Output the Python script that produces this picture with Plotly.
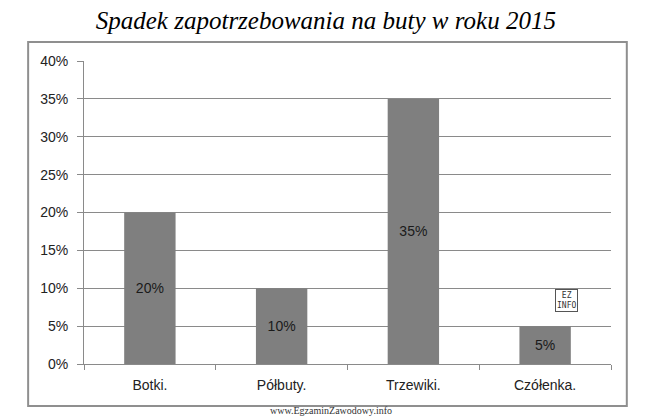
import plotly.graph_objects as go

categories = ["Botki.", "Półbuty.", "Trzewiki.", "Czółenka."]
spadek_pct = [20, 10, 35, 5]
y_ticks = [0, 5, 10, 15, 20, 25, 30, 35, 40]

title_text = "Spadek zapotrzebowania na buty w roku 2015"
watermark = "www.EgzaminZawodowy.info"

GRAY = "#8a8a8a"
BAR = "#7f7f7f"

fig = go.Figure()
fig.add_trace(
    go.Bar(
        x=categories,
        y=[v / 100 for v in spadek_pct],
        marker=dict(color=BAR, line=dict(width=0)),
        texttemplate="%{y:.0%}",
        textposition="inside",
        insidetextanchor="middle",
        textangle=0,
        textfont=dict(family="Liberation Sans", size=14, color="#1a1a1a"),
        hoverinfo="skip",
    )
)

fig.update_layout(
    width=665,
    height=416,
    margin=dict(l=84, r=54, t=61, b=52),
    paper_bgcolor="white",
    plot_bgcolor="white",
    showlegend=False,
    bargap=0.61,
    title=dict(
        text=title_text,
        x=0.49,
        xanchor="center",
        y=0.952,
        yanchor="middle",
        font=dict(family="Liberation Serif", size=25, color="black", style="italic"),
    ),
    font=dict(family="Liberation Sans", size=14, color="#222222"),
)

fig.update_yaxes(
    range=[0, 0.4],
    tickvals=[t / 100 for t in y_ticks],
    ticktext=[f"{t}%" for t in y_ticks],
    showgrid=True,
    gridcolor=GRAY,
    gridwidth=1,
    showline=True,
    linecolor=GRAY,
    linewidth=1,
    ticks="outside",
    ticklen=6,
    tickcolor=GRAY,
    ticklabelstandoff=6,
    zeroline=False,
    tickfont=dict(size=14),
)
fig.update_xaxes(
    showline=True,
    linecolor=GRAY,
    linewidth=1,
    ticks="outside",
    tickson="boundaries",
    ticklen=5,
    tickcolor=GRAY,
    ticklabelstandoff=8,
    tickfont=dict(size=14),
)

# ramka wykresu
fig.add_shape(
    type="rect",
    xref="paper",
    yref="paper",
    x0=-0.106,
    x1=1.030,
    y0=-0.139,
    y1=1.063,
    line=dict(color="#8f8f8f", width=2),
    layer="below",
)

fig.add_annotation(
    text="EZ<br>INFO",
    xref="paper",
    yref="paper",
    x=0.937,
    y=0.17,
    showarrow=False,
    font=dict(family="DejaVu Sans Mono", size=8, color="#333333"),
    bordercolor="#555555",
    borderwidth=1,
    borderpad=1,
)
fig.add_annotation(
    text=watermark,
    xref="paper",
    yref="paper",
    x=0.469,
    y=-0.152,
    yanchor="middle",
    showarrow=False,
    font=dict(family="Liberation Serif", size=10, color="#333333"),
)

fig.write_html(
    "out.html",
    config={"displayModeBar": False},
    post_script="document.body.style.margin='0';",
)
